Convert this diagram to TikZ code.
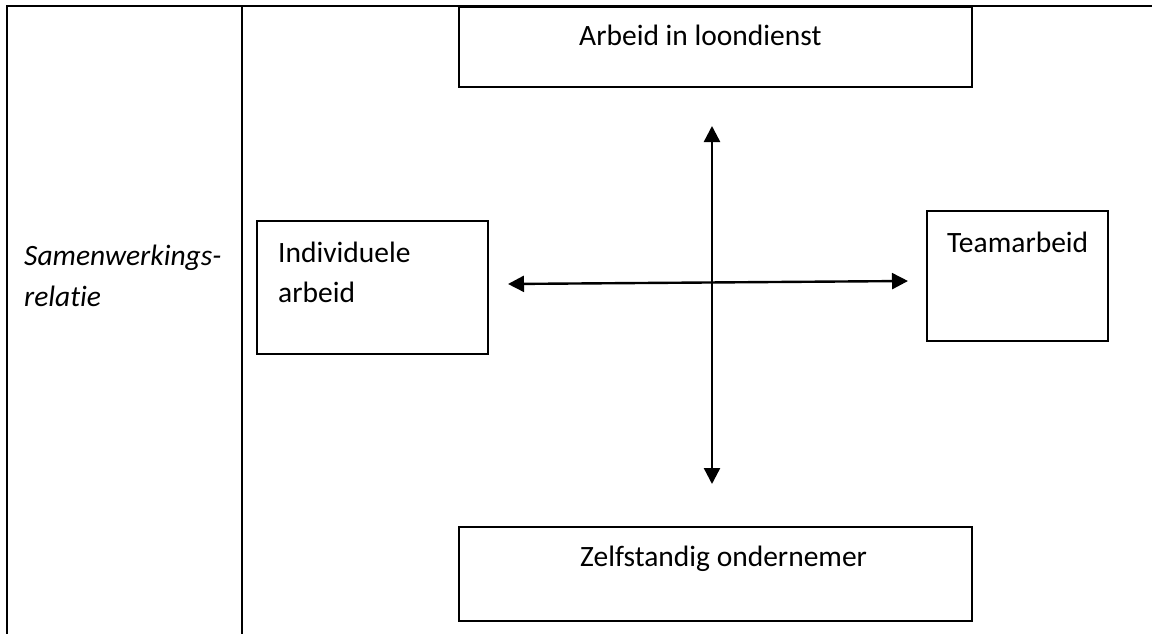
\documentclass[tikz,border=0pt]{standalone}
\usepackage{fontspec}
\setmainfont{Carlito}[Ligatures={NoCommon}]
\usetikzlibrary{arrows.meta}
\begin{document}
\begin{tikzpicture}[x=1pt,y=-1pt,
  rule/.style={line width=2.8pt, line cap=rect},
  boxline/.style={draw, line width=1.6pt},
  txt/.style={font=\fontsize{29.5}{34}\selectfont, anchor=base west, inner sep=0pt},
  itxt/.style={txt, font=\fontsize{29.5}{34}\selectfont\itshape},
  arr/.style={line width=2.4pt, {Triangle[length=16pt,width=16pt]}-{Triangle[length=16pt,width=16pt]}}]
\useasboundingbox (0,0) rectangle (1152,634);
% table rules
\coordinate (tl) at (7,6);
\coordinate (tr) at (1152,6);
\coordinate (bl) at (7,634);
\coordinate (dt) at (242,6);
\coordinate (db) at (242,634);
\draw[rule] (tr) -- (tl) -- (bl);
\draw[rule] (dt) -- (db);
% boxes
\draw[boxline] (459,7) rectangle (972,87);
\draw[boxline] (257,221) rectangle (488,354);
\draw[boxline] (927,211) rectangle (1108,341);
\draw[boxline] (459,527) rectangle (972,621);
% texts
\node[txt] (top) at (579,46) {Arbeid in loondienst};
\node[txt] (bot) at (580,566) {Zelfstandig ondernemer};
\node[txt] (ind1) at (278,262) {Individuele};
\node[txt] (ind2) at (278,302) {arbeid};
\node[txt] (team) at (947,252) {Teamarbeid};
\node[itxt] (sam1) at (24,265) {Samenwerkings-};
\node[itxt] (sam2) at (24,306) {relatie};
% arrows
\coordinate (vt) at (712,126);
\coordinate (vb) at (712,484);
\coordinate (hl) at (508,284);
\coordinate (hr) at (908,281);
\draw[arr] (vb) -- (vt);
\draw[arr] (hl) -- (hr);
\end{tikzpicture}
\end{document}
